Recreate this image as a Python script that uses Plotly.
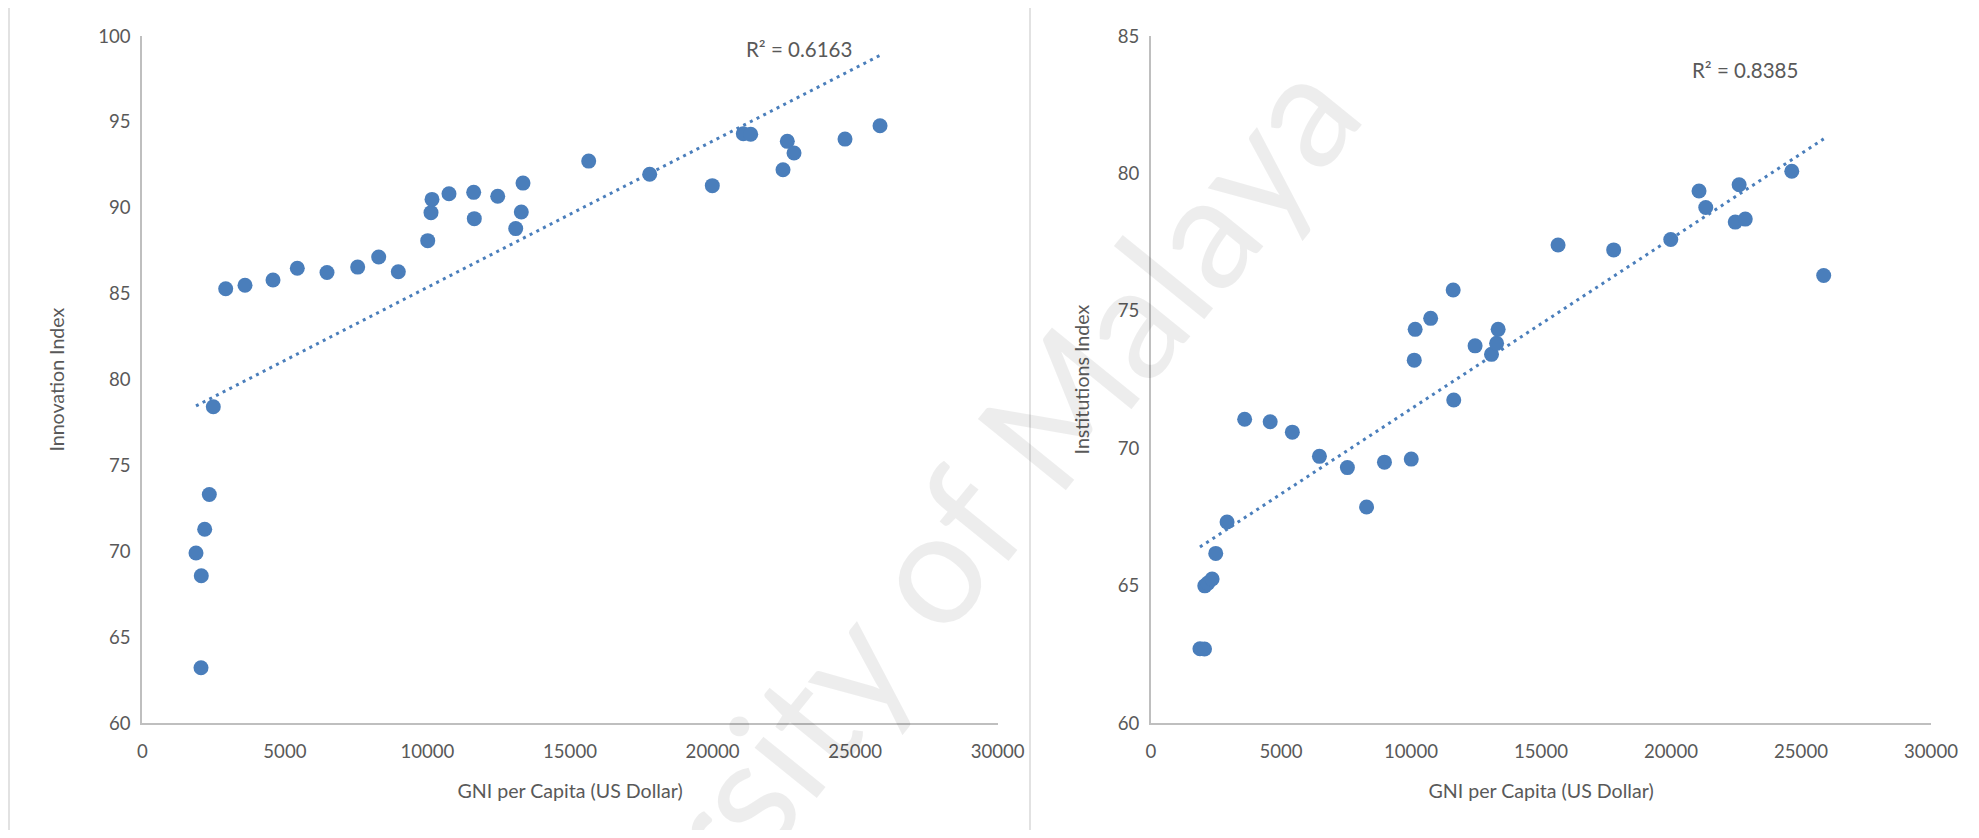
import numpy as np
import plotly.graph_objects as go

# ---- data ----
gni_per_capita = [1883, 2059, 2069, 2188, 2350, 2490, 2925, 3602, 4584, 5436,
                  6478, 7554, 8291, 8979, 10010, 10125, 10160, 10756, 11622, 11644,
                  12465, 13096, 13292, 13352, 15656, 17795, 19991, 21078, 21337, 22471,
                  22621, 22857, 24645, 25873]
innovation_index = [69.91, 63.23, 68.59, 71.29, 73.32, 78.42, 85.29, 85.49, 85.80, 86.48,
                    86.24, 86.55, 87.14, 86.28, 88.09, 89.72, 90.49, 90.82, 90.90, 89.37,
                    90.67, 88.79, 89.76, 91.44, 92.72, 91.95, 91.29, 94.31, 94.28, 92.22,
                    93.87, 93.19, 94.00, 94.78]
institutions_index = [62.71, 62.70, 65.00, 65.10, 65.25, 66.18, 67.32, 71.06, 70.97, 70.59,
                      69.71, 69.30, 67.87, 69.50, 69.61, 73.21, 74.33, 74.73, 75.76, 71.76,
                      73.73, 73.42, 73.82, 74.33, 77.40, 77.22, 77.60, 79.36, 78.76, 78.23,
                      79.59, 78.34, 80.08, 76.29]
x_ticks = [0, 5000, 10000, 15000, 20000, 25000, 30000]
y_ticks_innovation = [60, 65, 70, 75, 80, 85, 90, 95, 100]
y_ticks_institutions = [60, 65, 70, 75, 80, 85]
r2_innovation_label = "R² = 0.6163"
r2_institutions_label = "R² = 0.8385"
x_title = "GNI per Capita (US Dollar)"
y_title_innovation = "Innovation Index"
y_title_institutions = "Institutions Index"
watermark = "University of Malaya"

# page is 1979x838; the browser's default 8px body margin surrounds the figure
OFF = 8
W, H = 1979 - 2 * OFF, 838 - 2 * OFF
BLUE = "#4a7ebb"
TXT = "#595959"
AXIS = "#bfbfbf"
FONT = "Lato"

def fx(px):
    return (px - OFF) / W

def fy(py):
    return (H - (py - OFF)) / H

x = np.array(gni_per_capita, dtype=float)

def trend(yvals):
    m, b = np.polyfit(x, np.array(yvals, dtype=float), 1)
    xs = np.array([x.min(), x.max()])
    return xs, m * xs + b

fig = go.Figure()

for yvals, xa, ya in [(innovation_index, "x", "y"), (institutions_index, "x2", "y2")]:
    tx, ty = trend(yvals)
    fig.add_trace(go.Scatter(x=tx, y=ty, mode="lines", xaxis=xa, yaxis=ya,
                             line=dict(color=BLUE, width=3, dash="3px,4.5px"),
                             hoverinfo="skip", showlegend=False))
    fig.add_trace(go.Scatter(x=gni_per_capita, y=yvals, mode="markers", xaxis=xa, yaxis=ya,
                             marker=dict(size=15, color=BLUE, line=dict(width=0)),
                             showlegend=False))

common_x = dict(range=[0, 30000], tickvals=x_ticks, tickformat="d", showgrid=False, zeroline=False,
                showline=True, linecolor=AXIS, linewidth=2, ticks="", automargin=False,
                tickfont=dict(family=FONT, size=18.6, color=TXT),
                ticklabelstandoff=10,
                title=dict(text=x_title, font=dict(family=FONT, size=19.6, color=TXT), standoff=24))
common_y = dict(showgrid=False, zeroline=False, showline=True, linecolor=AXIS, linewidth=2,
                ticks="", tickfont=dict(family=FONT, size=18.6, color=TXT), tickformat="d",
                ticklabelstandoff=6, automargin=False)

fig.update_layout(
    template="none",
    width=W, height=H, margin=dict(l=0, r=0, t=0, b=0, pad=0), autosize=False,
    paper_bgcolor="white", plot_bgcolor="white",
    xaxis=dict(domain=[fx(142.3), fx(997.7)], anchor="y", **common_x),
    yaxis=dict(domain=[fy(723.3), fy(36)], anchor="x", range=[60, 100],
               tickvals=y_ticks_innovation,
               title=dict(text=y_title_innovation, font=dict(family=FONT, size=19.6, color=TXT), standoff=28),
               **common_y),
    xaxis2=dict(domain=[fx(1151), fx(1931)], anchor="y2", **common_x),
    yaxis2=dict(domain=[fy(723.3), fy(36)], anchor="x2", range=[60, 85],
                tickvals=y_ticks_institutions,
                title=dict(text=y_title_institutions, font=dict(family=FONT, size=19.6, color=TXT), standoff=23),
                **common_y),
    annotations=[
        dict(text=r2_innovation_label, xref="paper", yref="paper", x=fx(798.5), y=fy(49),
             xanchor="center", yanchor="middle",
             showarrow=False, font=dict(family=FONT, size=20.5, color=TXT)),
        dict(text=r2_institutions_label, xref="paper", yref="paper", x=fx(1745), y=fy(70),
             xanchor="center", yanchor="middle",
             showarrow=False, font=dict(family=FONT, size=20.5, color=TXT)),
        dict(text=watermark, xref="paper", yref="paper", x=fx(875), y=fy(629),
             xanchor="center", yanchor="middle",
             showarrow=False, textangle=-51,
             font=dict(family=FONT, size=158, color="rgba(0,0,0,0.07)")),
    ],
    shapes=[
        dict(type="line", xref="paper", yref="paper", x0=fx(9), x1=fx(9), y0=0, y1=1,
             line=dict(color="#d9d9d9", width=1.5)),
        dict(type="line", xref="paper", yref="paper", x0=fx(1030), x1=fx(1030), y0=0, y1=1,
             line=dict(color="#d9d9d9", width=1.5)),
    ],
)

fig.write_html("out.html", config={"displayModeBar": False})
